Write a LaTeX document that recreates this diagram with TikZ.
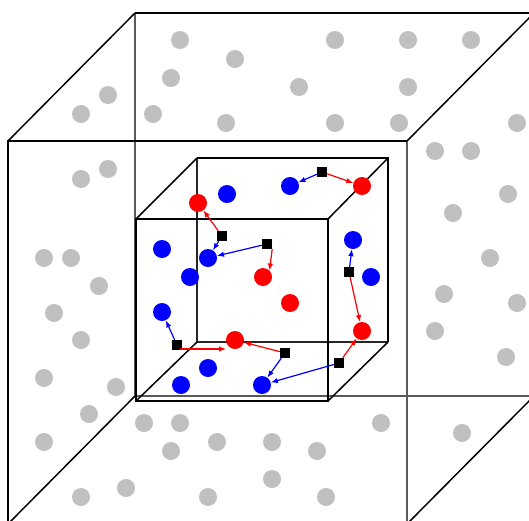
\documentclass[tikz,border=0pt]{standalone}
\usetikzlibrary{arrows.meta}
\definecolor{dotgray}{RGB}{192,192,192}
\definecolor{edgegray}{RGB}{90,90,90}
\begin{document}
\begin{tikzpicture}[x=1pt,y=-1pt,
  gdot/.style={circle,fill=dotgray,inner sep=0pt,minimum size=18pt},
  bdot/.style={circle,fill=blue,inner sep=0pt,minimum size=18pt},
  rdot/.style={circle,fill=red,inner sep=0pt,minimum size=18pt},
  sq/.style={rectangle,fill=black,inner sep=0pt,minimum size=10pt},
  thickedge/.style={line width=2pt,black},
  diagedge/.style={line width=1.5pt,black},
  thinedge/.style={line width=1.2pt,edgegray},
  barrow/.style={blue,line width=1.2pt,-{Latex[length=7pt,width=5.5pt]}},
  rarrow/.style={red,line width=1.2pt,-{Latex[length=7pt,width=5.5pt]}}
]
\useasboundingbox (0,0) rectangle (529,520);
\fill[white] (0,0) rectangle (529,520);
% gray dots
\foreach \p [count=\i] in {(180,40),(235,59),(171,78),(108,95),(81,114),(153,114),(226,123),(299,87),(335,40),(408,40),(471,40),(408,87),(335,123),(399,123),(517,123),(435,151),(471,151),(108,169),(81,179),(44,258),(71,258),(99,286),(54,313),(81,340),(508,194),(453,213),(490,258),(444,294),(517,303),(435,331),(506,357),(44,378),(116,387),(89,414),(44,442),(144,423),(180,423),(171,451),(217,442),(272,442),(317,451),(381,423),(81,497),(126,488),(208,497),(272,479),(326,497),(462,433)}
  \node[gdot] (g\i) at \p {};
% outer cube corners
\coordinate (OFTL) at (8,141);
\coordinate (OFTR) at (407,141);
\coordinate (OFBL) at (8,524);
\coordinate (OFBR) at (407,524);
\coordinate (OBTL) at (135,13);
\coordinate (OBTR) at (534,13);
\coordinate (OBBL) at (135,396);
\coordinate (OBBR) at (534,396);
\draw[thinedge] (OBTL) -- (OBBL) -- (OBBR);
\draw[thinedge] (OFTR) -- (OFBR);
\draw[thickedge] (OBTL) -- (OBTR);
\draw[thickedge] (OFBL) -- (OFTL) -- (OFTR);
\draw[diagedge] (OFTL) -- (OBTL);
\draw[diagedge] (OFTR) -- (OBTR);
\draw[diagedge] (OFBL) -- (OBBL);
\draw[diagedge] (OFBR) -- (OBBR);
% inner cube corners
\coordinate (IFTL) at (136,219);
\coordinate (IFTR) at (328,219);
\coordinate (IFBL) at (136,401);
\coordinate (IFBR) at (328,401);
\coordinate (IBTL) at (197,158);
\coordinate (IBTR) at (388,158);
\coordinate (IBBL) at (197,342);
\coordinate (IBBR) at (388,342);
\draw[line width=1.2pt,black!85] (IBTL) -- (IBBL) -- (IBBR);
\draw[thickedge] (IBTL) -- (IBTR) -- (IBBR);
\draw[diagedge] (IFTL) -- (IBTL);
\draw[diagedge] (IFTR) -- (IBTR);
\draw[diagedge] (IFBL) -- (IBBL);
\draw[diagedge] (IFBR) -- (IBBR);
\draw[thickedge] (IFTL) rectangle (IFBR);
% coloured dots
\node[rdot] (r1) at (198,203) {};
\node[rdot] (r2) at (362,186) {};
\node[rdot] (r3) at (263,277) {};
\node[rdot] (r4) at (290,303) {};
\node[rdot] (r5) at (362,331) {};
\node[rdot] (r6) at (235,340) {};
\node[bdot] (b1) at (227,194) {};
\node[bdot] (b2) at (290,186) {};
\node[bdot] (b3) at (162,249) {};
\node[bdot] (b4) at (208,258) {};
\node[bdot] (b5) at (190,277) {};
\node[bdot] (b6) at (353,240) {};
\node[bdot] (b7) at (371,277) {};
\node[bdot] (b8) at (162,312) {};
\node[bdot] (b9) at (208,368) {};
\node[bdot] (b10) at (181,385) {};
\node[bdot] (b11) at (262,385) {};
% squares
\node[sq] (s1) at (322,172) {};
\node[sq] (s2) at (222,236) {};
\node[sq] (s3) at (267,244) {};
\node[sq] (s4) at (349,272) {};
\node[sq] (s5) at (177,345) {};
\node[sq] (s6) at (285,353) {};
\node[sq] (s7) at (339,363) {};
\coordinate (s5e) at (180,349);
\coordinate (r6w) at (226,349);
% arrows
\draw[barrow] (s1) -- (b2);
\draw[rarrow] (s1) -- (r2);
\draw[rarrow] (s2) -- (r1);
\draw[barrow] (s2) -- (b4);
\draw[barrow] (s3) -- (b4);
\draw[rarrow] (s3.south east) -- (r3.north east);
\draw[barrow] (s4) -- (b6);
\draw[rarrow] (s4) -- (r5);
\draw[barrow] (s5) -- (b8);
\draw[rarrow] (s5e) -- (r6w);
\draw[rarrow] (s6) -- (r6);
\draw[barrow] (s6) -- (b11);
\draw[barrow] (s7) -- (b11);
\draw[rarrow] (s7) -- (r5);
\end{tikzpicture}
\end{document}
